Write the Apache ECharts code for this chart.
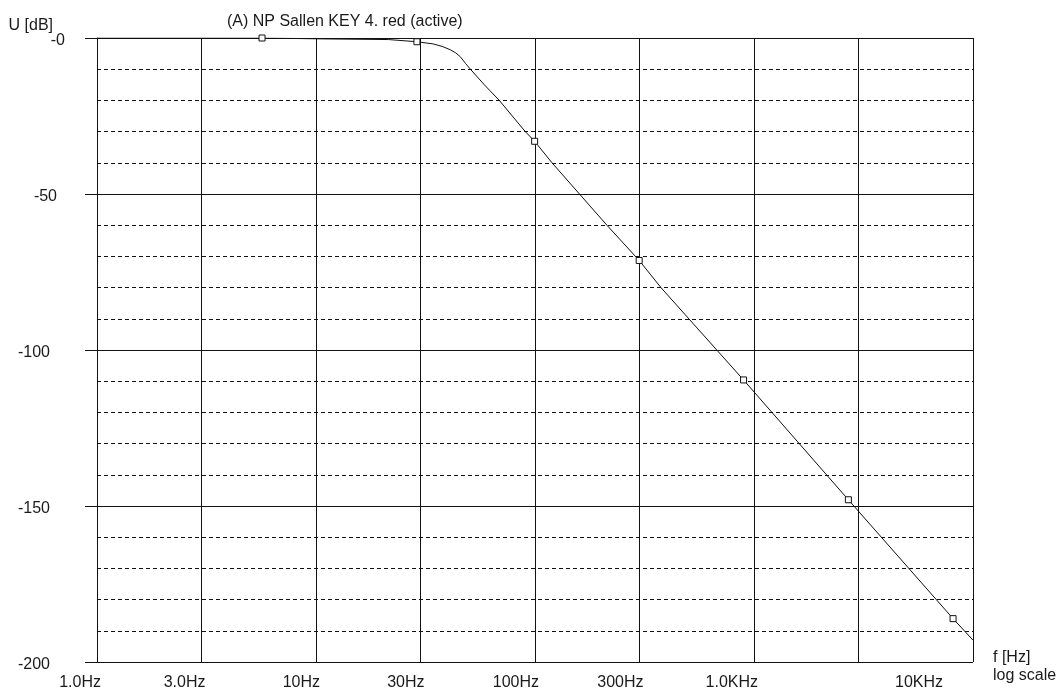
<!DOCTYPE html>
<html>
<head>
<meta charset="utf-8">
<script src="https://cdn.jsdelivr.net/npm/echarts@6/dist/echarts.min.js"></script>
<style>
  html, body { margin: 0; padding: 0; background: #fff; }
  #chart { width: 1062px; height: 691px; }
</style>
</head>
<body>
<div id="chart"></div>
<script>
// Frequency response of the 4th-order Sallen-Key low-pass stage
const freqHz = [1, 5.67, 11.1, 21.4, 28.9, 34.3, 37.7, 41.0, 43.3, 45.6, 48.1, 50.7, 58.7, 68.7, 90.3, 99.6, 119.6, 213, 299, 376, 896, 2697, 8108, 10000];
const gainDb = [0, 0, -0.3, -0.5, -1.2, -1.9, -2.7, -3.75, -4.7, -6.0, -8.1, -10, -15, -20, -30, -33.1, -40, -60, -71.3, -80, -109.6, -148, -186.1, -193];
// Points carrying a square marker
const markerHz = [5.67, 28.9, 99.6, 299, 896, 2697, 8108];

// Axis ticks and labels
const xLabelHz = [1, 3, 10, 30, 100, 300, 1000, 10000];
const xLabelText = ['1.0Hz', '3.0Hz', '10Hz', '30Hz', '100Hz', '300Hz', '1.0KHz', '10KHz'];
const xGridHz = [1, 3, 10, 30, 100, 300, 1000, 3000, 10000];
const yMajor = [0, -50, -100, -150, -200];
const yMajorText = ['-0', '-50', '-100', '-150', '-200'];
const yMinor = [-10, -20, -30, -40, -60, -70, -80, -90, -110, -120, -130, -140, -160, -170, -180, -190];

const lg = Math.log10;
const FONT = '"Liberation Sans", Arial, sans-serif';
const FS = 16;
const INK = '#111';
const TEXT = '#1a1a1a';

function nearestIndex(list, v) {
  let best = 0;
  for (let i = 1; i < list.length; i++) {
    if (Math.abs(list[i] - v) < Math.abs(list[best] - v)) best = i;
  }
  return best;
}

const xLabelPos = xLabelHz.map(lg);

const curve = freqHz.map((f, i) => {
  const item = { value: [lg(f), gainDb[i]] };
  if (markerHz.indexOf(f) < 0) item.symbol = 'none';
  return item;
});

const chart = echarts.init(document.getElementById('chart'), null, { renderer: 'canvas' });

chart.setOption({
  animation: false,
  backgroundColor: '#fff',
  title: [
    {
      text: '(A) NP Sallen KEY 4. red (active)',
      left: 227,
      top: 14,
      padding: 0,
      textStyle: { fontFamily: FONT, fontSize: FS, fontWeight: 'normal', color: TEXT }
    },
    {
      // frequency axis caption, right of the plot
      text: 'f [Hz]\nlog scale',
      left: 993,
      top: 649,
      padding: 0,
      textStyle: { fontFamily: FONT, fontSize: FS, fontWeight: 'normal', color: TEXT, lineHeight: 18 }
    }
  ],
  grid: {
    left: 97,
    right: 89,
    top: 38,
    bottom: 29,
    containLabel: false,
    outerBoundsMode: 'none'
  },
  xAxis: [
    {
      type: 'value',
      min: 0,
      max: 4,
      position: 'bottom',
      axisLine: { show: true, lineStyle: { color: INK, width: 1 } },
      axisTick: { show: true, length: 12, customValues: xLabelPos, lineStyle: { color: INK, width: 1 } },
      axisLabel: {
        show: true,
        customValues: xLabelPos,
        margin: 13,
        align: 'right',
        padding: [0, -4, 0, 0],
        fontFamily: FONT,
        fontSize: FS,
        color: TEXT,
        formatter: function (v) {
          const t = xLabelText[nearestIndex(xLabelPos, v)];
          return t === '10KHz' ? '{far|' + t + '}' : t;
        },
        rich: {
          far: { fontFamily: FONT, fontSize: FS, color: TEXT, padding: [0, 34, 0, 0] }
        }
      },
      splitLine: { show: false }
    },
    {
      type: 'value',
      min: 0,
      max: 4,
      position: 'top',
      axisLine: { show: false },
      axisTick: { show: false, customValues: xGridHz.map(lg) },
      axisLabel: { show: false },
      splitLine: { show: true, lineStyle: { color: INK, width: 1 } }
    }
  ],
  yAxis: [
    {
      type: 'value',
      min: -200,
      max: 0,
      interval: 10,
      position: 'left',
      axisLine: { show: true, lineStyle: { color: INK, width: 1 } },
      axisTick: { show: true, length: 12, customValues: yMajor, lineStyle: { color: INK, width: 1 } },
      axisLabel: {
        show: true,
        customValues: yMajor,
        margin: 32,
        align: 'right',
        padding: [6, 0, 0, 0],
        fontFamily: FONT,
        fontSize: FS,
        color: TEXT,
        formatter: function (v) {
          const i = nearestIndex(yMajor, v);
          const t = yMajorText[i];
          if (i === 0) return t;
          if (i === 1) return '{m|' + t + '}';
          return '{w|' + t + '}';
        },
        rich: {
          m: { fontFamily: FONT, fontSize: FS, color: TEXT, padding: [0, 8, 0, 0] },
          w: { fontFamily: FONT, fontSize: FS, color: TEXT, padding: [0, 15, 0, 0] }
        }
      },
      splitLine: { show: true, lineStyle: { color: INK, width: 1 } },
      name: 'U [dB]',
      nameLocation: 'end',
      nameGap: 12,
      nameMoveOverlap: false,
      nameTextStyle: {
        fontFamily: FONT, fontSize: FS, color: TEXT,
        align: 'right', verticalAlign: 'middle',
        padding: [0, 44, 0, 0]
      }
    },
    {
      type: 'value',
      min: -200,
      max: 0,
      interval: 10,
      position: 'right',
      axisLine: { show: false },
      axisTick: { show: false, customValues: yMinor },
      axisLabel: { show: false },
      splitLine: { show: true, lineStyle: { color: INK, width: 1, type: [4, 3] } }
    }
  ],
  series: [
    {
      type: 'line',
      xAxisIndex: 0,
      yAxisIndex: 0,
      data: curve,
      smooth: false,
      symbol: 'rect',
      symbolSize: 6,
      showSymbol: true,
      showAllSymbol: true,
      lineStyle: { color: INK, width: 1 },
      itemStyle: { color: '#fff', borderColor: INK, borderWidth: 1 },
      emphasis: { disabled: true },
      z: 5
    }
  ]
});
</script>
</body>
</html>
